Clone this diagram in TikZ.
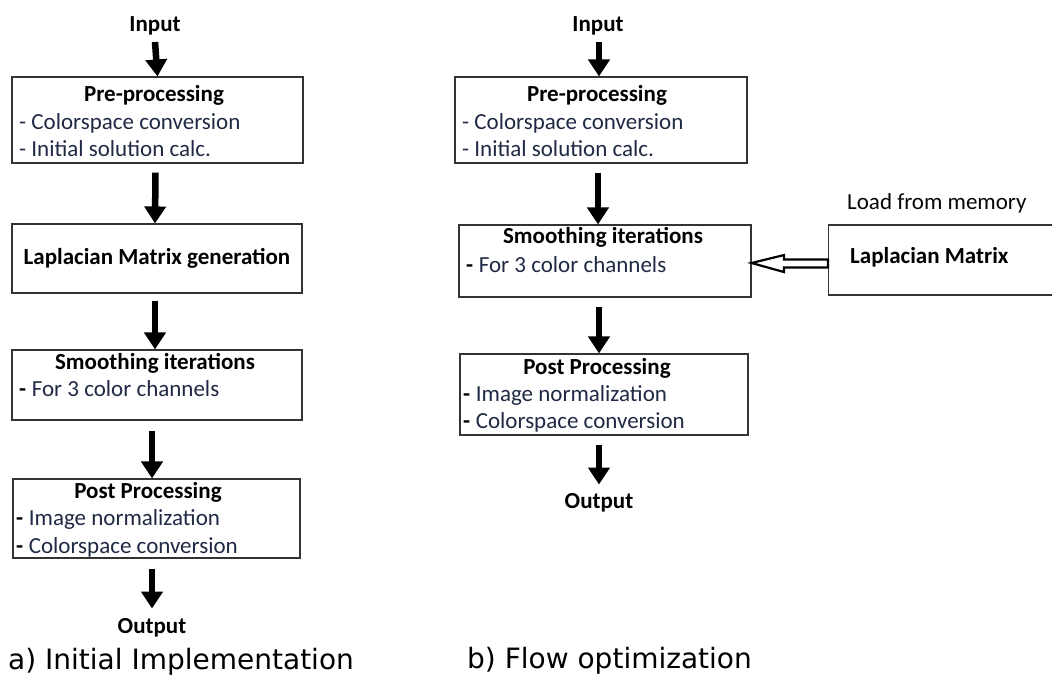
\documentclass[tikz,border=0pt]{standalone}
\usepackage{fontspec}
\setmainfont{Carlito}
\newfontfamily\capfont{DejaVu Sans}
\usetikzlibrary{arrows.meta,calc}
\definecolor{itemcol}{RGB}{32,42,68}
\begin{document}
\begin{tikzpicture}[x=1pt,y=-1pt,
  box/.style={draw=black!80, line width=1.1pt, rectangle, inner sep=0pt},
  ttl/.style={font=\bfseries\fontsize{23}{23}\selectfont, inner sep=0pt, anchor=base},
  itm/.style={font=\fontsize{23}{23}\selectfont, text=itemcol, inner sep=0pt, anchor=base west},
  lead/.style={font=\bfseries\fontsize{23}{23}\selectfont, inner sep=0pt, anchor=base west},
  captxt/.style={font=\capfont\fontsize{28}{28}\selectfont, inner sep=0pt, anchor=base west},
  flow/.style={line width=6.5pt, -{Triangle[width=21pt,length=17pt]}},
  hollow/.style={line width=2.2pt, line join=miter, fill=white}
]
\clip (0,0) rectangle (1052,676);
\fill[white] (0,0) rectangle (1052,676);

% ---------- a) initial implementation ----------
\node[ttl] (inA) at (155,31.5) {Input};
\node[box, minimum width=291, minimum height=86] (preA) at (157.5,120) {};
\node[ttl] (preAt) at (154,102) {Pre-processing};
\node[itm] (preA1) at (19,130) {- Colorspace conversion};
\node[itm] (preA2) at (19,157) {- Initial solution calc.};

\node[box, minimum width=290, minimum height=69] (lapA) at (157,258.5) {};
\node[ttl] (lapAt) at (157,265) {Laplacian Matrix generation};

\node[box, minimum width=290, minimum height=70] (smA) at (157,385) {};
\node[ttl] (smAt) at (155,369) {Smoothing iterations};
\node[lead] (smA0) at (19,396) {-};
\node[itm] (smA1) at (smA0.base east) {\ For 3 color channels};

\node[box, minimum width=287, minimum height=79] (postA) at (156.5,518.5) {};
\node[ttl] (postAt) at (148,498) {Post Processing};
\node[lead] (postA0) at (16,525) {-};
\node[itm] (postA1) at (postA0.base east) {\ Image normalization};
\node[lead] (postA2) at (16,553) {-};
\node[itm] (postA3) at (postA2.base east) {\ Colorspace conversion};
\node[ttl] (outA) at (152,633) {Output};

\draw[flow] (155,42) -- (preA.north);
\draw[flow] ($(preA.south)+(-2,9)$) -- ($(lapA.north)+(-2,0)$);
\draw[flow] ($(lapA.south)+(-2,7)$) -- ($(smA.north)+(-2,0)$);
\draw[flow] ($(smA.south)+(-5,10)$) -- ($(postA.north)+(-4.5,0)$);
\draw[flow] ($(postA.south)+(-4.5,10)$) -- ($(postA.south)+(-4.5,50)$);

\node[captxt] (capA) at (8,669) {a) Initial Implementation};

% ---------- b) flow optimization ----------
\node[ttl] (inB) at (598,31.5) {Input};
\node[box, minimum width=292, minimum height=86] (preB) at (601,120) {};
\node[ttl] (preBt) at (597,102) {Pre-processing};
\node[itm] (preB1) at (462,130) {- Colorspace conversion};
\node[itm] (preB2) at (462,157) {- Initial solution calc.};

\node[box, minimum width=292, minimum height=72] (smB) at (605,261) {};
\node[ttl] (smBt) at (603,244) {Smoothing iterations};
\node[lead] (smB0) at (466,273) {-};
\node[itm] (smB1) at (smB0.base east) {\ For 3 color channels};

\node[box, minimum width=240, minimum height=70, anchor=north west] (lapB) at (828,224.5) {};
\node[lead] (lapBt) at (850,264) {Laplacian Matrix};
\node[itm, text=black!85!itemcol] (mem) at (847,210) {Load from memory};

\node[box, minimum width=288, minimum height=81] (postB) at (604,394.5) {};
\node[ttl] (postBt) at (597,374) {Post Processing};
\node[lead] (postB0) at (463,401) {-};
\node[itm] (postB1) at (postB0.base east) {\ Image normalization};
\node[lead] (postB2) at (463,428) {-};
\node[itm] (postB3) at (postB2.base east) {\ Colorspace conversion};
\node[ttl] (outB) at (599,508) {Output};

\draw[flow] (599,42) -- ($(preB.north)+(-2,0)$);
\draw[flow] ($(preB.south)+(-3,9)$) -- ($(smB.north)+(-7,0)$);
\draw[flow] ($(smB.south)+(-6,9)$) -- ($(postB.north)+(-5,0)$);
\draw[flow] ($(postB.south)+(-5,9)$) -- ($(postB.south)+(-5,49)$);

% hollow arrow from the stored matrix into the smoothing step
\draw[hollow] ($(lapB.west)+(0,-0.5)$) -- ($(lapB.west)+(-44,-0.5)$)
  -- ($(lapB.west)+(-44,-5)$) -- ($(smB.east)+(0,2)$)
  -- ($(lapB.west)+(-44,12)$) -- ($(lapB.west)+(-44,7.5)$)
  -- ($(lapB.west)+(0,7.5)$) -- cycle;

\node[captxt] (capB) at (467,668) {b) Flow optimization};
\end{tikzpicture}
\end{document}
